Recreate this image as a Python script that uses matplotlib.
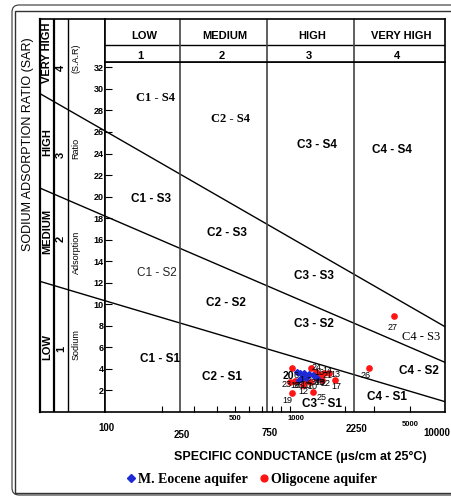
import numpy as np
import matplotlib
matplotlib.use("Agg")
import matplotlib.pyplot as plt
from matplotlib.patches import FancyBboxPatch, Rectangle
from matplotlib.transforms import IdentityTransform

plt.rcParams['font.family'] = ['Liberation Sans', 'DejaVu Sans']

# ---- data ----
# conductivity classes (uS/cm)
ec_bounds = [100, 250, 750, 2250, 10000]
ec_classes = ['LOW', 'MEDIUM', 'HIGH', 'VERY HIGH']
ec_class_no = ['1', '2', '3', '4']

# SAR class boundaries: value at the left edge of side panel, at EC=100 and at EC=10000
sar_line_left = [12.13, 20.79, 29.56]
sar_line_100 = [10.33, 18.19, 26.1]
sar_line_10000 = [0.96, 4.61, 7.92]

sar_ticks = list(range(2, 33, 2))
ec_minor = [200, 300, 400, 500, 600, 700, 800, 900, 1000, 2000, 3000, 5000]
ec_tick_labels = [100, 250, 500, 750, 1000, 2250, 5000, 10000]

# samples
eoc_id = [1, 2, 3, 4, 5, 6, 7, 8, 9]
eoc_ec = [1140, 1200, 1275, 1340, 1165, 1095, 1225, 1410, 1125]
eoc_sar = [3.6, 3.6, 3.5, 3.4, 3.2, 3.7, 3.2, 3.2, 3.0]

olig_id = [10, 11, 12, 13, 14, 15, 16, 17, 18, 19, 20, 21, 22, 23, 24, 25, 26, 27]
olig_ec = [1290, 1210, 1180, 1640, 1540, 1390, 1390, 1770, 1070, 1030, 1030,
           1465, 1500, 1000, 1305, 1340, 2790, 3980]
olig_sar = [2.8, 2.9, 2.5, 3.6, 3.6, 3.2, 3.7, 3.0, 2.9, 1.75, 4.1,
            3.45, 3.0, 2.8, 4.1, 1.85, 4.1, 8.9]

# ---- layout helpers ----
W, H = 452, 497
PX_PER_SAR = 10.77


def box(x0, y0, x1, y1):
    return [x0 / W, 1 - y1 / H, (x1 - x0) / W, (y1 - y0) / H]


# the EC axis of the original is a stretched log axis
anchor_ec = np.log10([100, 250, 750, 2250, 5000, 10000])
anchor_pos = np.array([0, 75, 162, 249, 305, 340], dtype=float)


def fwd(x):
    x = np.asarray(x, dtype=float)
    return np.interp(np.log10(np.clip(x, 1, None)), anchor_ec, anchor_pos)


def inv(p):
    return 10 ** np.interp(p, anchor_pos, anchor_ec)


fig = plt.figure(figsize=(W / 100, H / 100), dpi=100)

# ---- left side panel with sodium hazard classes (drawn first, transparent) ----
lx = fig.add_axes(box(40, 19, 105, 412))
lx.patch.set_visible(False)
lx.set_xlim(0, 1)
lx.set_ylim(0, 393 / PX_PER_SAR)
lx.set_xticks([])
lx.set_yticks([])
for s in lx.spines.values():
    s.set_linewidth(1.2)
lx.spines['left'].set_linewidth(1.6)
lx.axvline(14 / 65, color='black', lw=1.6)
lx.axvline(28 / 65, color='black', lw=1.0)
for a, b in zip(sar_line_left, sar_line_100):
    lx.plot([0, 1], [a, b], color='black', lw=1.0)

side = [('VERY HIGH', 53), ('HIGH', 142), ('MEDIUM', 231), ('LOW', 347)]
side_no = [('4', 68), ('3', 155), ('2', 239), ('1', 349)]
side_txt = [('(S.A.R)', 58), ('Ratio', 148), ('Adsorption', 252), ('Sodium', 345)]
for txt, py in side:
    lx.text(7 / 65, (412 - py) / 393, txt, transform=lx.transAxes, rotation=90,
            ha='center', va='center', fontsize=8, fontweight='bold')
for txt, py in side_no:
    lx.text(21 / 65, (412 - py) / 393, txt, transform=lx.transAxes, rotation=90,
            ha='center', va='center', fontsize=8, fontweight='bold')
for txt, py in side_txt:
    lx.text(36 / 65, (412 - py) / 393, txt, transform=lx.transAxes, rotation=90,
            ha='center', va='center', fontsize=6.5)

# ---- main diagram ----
ax = fig.add_axes(box(105, 62, 445, 412))
ax.set_xscale('function', functions=(fwd, inv))
ax.set_xlim(ec_bounds[0], ec_bounds[-1])
ax.set_ylim(0, 350 / PX_PER_SAR)
for s in ax.spines.values():
    s.set_linewidth(1.2)

for a, b in zip(sar_line_100, sar_line_10000):
    ax.plot([ec_bounds[0], ec_bounds[-1]], [a, b], color='black', lw=1.0)
for e in ec_bounds[1:-1]:
    ax.axvline(e, color='#444444', lw=1.2)

ax.set_xticks(ec_minor)
ax.set_xticklabels([])
ax.xaxis.set_minor_locator(matplotlib.ticker.NullLocator())
ax.tick_params(axis='x', direction='in', length=4.5, width=0.8)
ax.set_yticks(sar_ticks)
ax.tick_params(axis='y', direction='in', length=5, width=0.8, pad=1, labelsize=6.5)
for t in ax.get_yticklabels():
    t.set_fontweight('bold')

# custom EC tick labels (staggered as in the original)
lab_dy = [-16, -23, -7, -21, -7, -17, -13, -21]
lab_dx = [1, 2, 0, 3, 6, 3, 0, -8]
lab_size = [7, 7, 5.5, 7, 5.5, 7, 5.5, 7]
for v, dx, dy, fs in zip(ec_tick_labels, lab_dx, lab_dy, lab_size):
    ax.annotate(str(v), (v, 0), xycoords=('data', 'axes fraction'),
                xytext=(dx, dy), textcoords='offset pixels', ha='center',
                va='center', fontsize=fs, fontweight='bold', annotation_clip=False)

# zone names
zones = [
    ('C1 - S4', 156, 98, 'serif', 'bold'),
    ('C2 - S4', 231, 119, 'serif', 'bold'),
    ('C3 - S4', 317, 145, 'sans', 'bold'),
    ('C4 - S4', 392, 150, 'sans', 'bold'),
    ('C1 - S3', 151, 199, 'sans', 'bold'),
    ('C2 - S3', 227, 233, 'sans', 'bold'),
    ('C3 - S3', 314, 276, 'sans', 'bold'),
    ('C1 - S2', 157, 273, 'sans', 'normal'),
    ('C2 - S2', 226, 303, 'sans', 'bold'),
    ('C3 - S2', 314, 324, 'sans', 'bold'),
    ('C4 - S3', 421, 337, 'serif', 'normal'),
    ('C4 - S2', 419, 371, 'sans', 'bold'),
    ('C1 - S1', 160, 359, 'sans', 'bold'),
    ('C2 - S1', 222, 377, 'sans', 'bold'),
    ('C3 - S1', 322, 404, 'sans', 'bold'),
    ('C4 - S1', 387, 397, 'sans', 'bold'),
]
for txt, px, py, fam, wt in zones:
    family = 'Liberation Serif' if fam == 'serif' else 'Liberation Sans'
    color = '#222222' if (fam == 'sans' and wt == 'normal') else 'black'
    size = 9 if fam == 'serif' else 8.5
    ax.text((px - 105) / 340, (412 - py) / 350, txt, transform=ax.transAxes,
            ha='center', va='center', fontsize=size, family=family,
            fontweight=wt, color=color)

# samples
h_olig, = ax.plot(olig_ec, olig_sar, 'o', color='#ff1414', ms=3.8,
                  ls='none', label='Oligocene aquifer', zorder=3)
h_eoc, = ax.plot(eoc_ec, eoc_sar, 'D', color='#1c2bd6', ms=3,
                 ls='none', label='M. Eocene aquifer', zorder=4)

eoc_off = [(2, -6), (5, -7), (4, -8), (4, -6), (-2, -8), (-1, -3), (3, -9), (5, -5), (-3, -6)]
olig_off = [(2, -5), (0, -5), (0, -6), (6, -1), (3, 3), (3, -5), (4, 0), (1, -7),
            (0, -5), (-5, -7), (-4, -8), (8, -1), (4, -4), (-3, -3), (6, 0),
            (9, -5), (-3, -8), (-1, -11)]
for ids, ecs, sars, offs in [(eoc_id, eoc_ec, eoc_sar, eoc_off),
                             (olig_id, olig_ec, olig_sar, olig_off)]:
    for i, e, s, (dx, dy) in zip(ids, ecs, sars, offs):
        big = i == 20
        ax.annotate(str(i), (e, s), xytext=(dx, dy), textcoords='offset pixels',
                    ha='center', va='center', fontsize=7.5 if big else 6.5,
                    fontweight='bold' if big else 'normal', zorder=5)

# ---- header with salinity classes ----
hx = fig.add_axes(box(105, 19, 445, 62))
hx.set_xscale('function', functions=(fwd, inv))
hx.set_xlim(ec_bounds[0], ec_bounds[-1])
hx.set_ylim(0, 1)
hx.set_xticks([])
hx.set_yticks([])
for s in hx.spines.values():
    s.set_linewidth(1.2)
hx.axhline(17 / 43, color='black', lw=1.0)
for e in ec_bounds[1:-1]:
    hx.axvline(e, color='#444444', lw=1.2)
for lo, hi, name, no in zip(ec_bounds[:-1], ec_bounds[1:], ec_classes, ec_class_no):
    xc = (fwd(lo) + fwd(hi)) / 2 / 340
    hx.text(xc + 0.004, 0.6, name, transform=hx.transAxes, ha='center',
            va='center', fontsize=8, fontweight='bold')
    hx.text(xc - 0.006, 0.15, no, transform=hx.transAxes, ha='center',
            va='center', fontsize=8, fontweight='bold')

# ---- axis titles & legend ----
fig.text(28 / W, 1 - 144 / H, 'SODIUM ADSORPTION RATIO (SAR)', rotation=90,
         ha='center', va='center', fontsize=9)
fig.text(300 / W, 1 - 457 / H, 'SPECIFIC CONDUCTANCE (\u03bcs/cm at 25\u00b0C)',
         ha='center', va='center', fontsize=9, fontweight='bold')
fig.legend(handles=[h_eoc, h_olig], loc='center',
           bbox_to_anchor=(252 / W, 1 - 479 / H), ncol=2, frameon=False,
           prop={'family': 'Liberation Serif', 'weight': 'bold', 'size': 10},
           handlelength=0.6, handletextpad=0.2, columnspacing=0.9,
           borderpad=0, markerscale=1.3)

# ---- double frame ----
outer = FancyBboxPatch((12, 2), 450, 490, boxstyle='round,pad=0,rounding_size=7',
                       transform=IdentityTransform(), fill=False, lw=0.8, ec='#333333')
inner = Rectangle((14.5, 4), 450, 482, transform=IdentityTransform(),
                  fill=False, lw=1.0, ec='#333333')
fig.add_artist(outer)
fig.add_artist(inner)

fig.savefig('out.png', dpi=100)
